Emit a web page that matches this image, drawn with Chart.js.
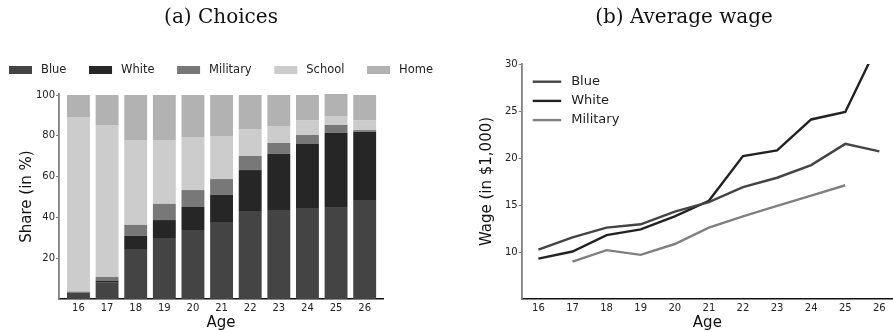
<!DOCTYPE html>
<html>
<head>
<meta charset="utf-8">
<script src="https://cdn.jsdelivr.net/npm/chart.js@4.4.1/dist/chart.umd.min.js"></script>
<style>
  html, body { margin: 0; padding: 0; background: #fff; }
  body { width: 893px; height: 332px; position: relative; overflow: hidden; }
  canvas { position: absolute; top: 0; }
  #choicesChart { left: 0; }
  #wageChart { left: 475px; }
</style>
</head>
<body>
<canvas id="choicesChart" width="442" height="332"></canvas>
<canvas id="wageChart" width="418" height="332"></canvas>
<script>
const ages = [16, 17, 18, 19, 20, 21, 22, 23, 24, 25, 26];

// (a) shares in %
const blueShare     = [3.0, 8.0, 24.5, 29.9, 33.8, 37.7, 43.1, 43.6, 44.6, 45.1, 48.5];
const whiteShare    = [0.0, 1.0, 6.4, 8.8, 11.3, 13.3, 20.1, 27.5, 31.4, 36.3, 33.4];
const militaryShare = [0.6, 1.8, 5.4, 7.9, 8.3, 7.8, 6.9, 5.4, 4.4, 3.9, 0.9];
const schoolShare   = [85.6, 74.5, 41.6, 31.3, 26.0, 21.1, 13.2, 8.3, 7.3, 4.4, 4.9];
const homeShare     = [10.8, 14.7, 22.1, 22.1, 20.6, 20.1, 16.7, 15.2, 12.3, 10.8, 12.3];
const shareTicks = [20, 40, 60, 80, 100];

// (b) wages in $1,000
const blueWage     = [10.25, 11.55, 12.6, 12.95, 14.3, 15.3, 16.9, 17.9, 19.25, 21.5, 20.7];
const whiteWage    = [9.3, 10.05, 11.8, 12.4, 13.8, 15.45, 20.2, 20.8, 24.1, 24.9, 32.4];
const militaryWage = [null, 8.97, 10.2, 9.7, 10.85, 12.6, 13.8, 14.9, 16.0, 17.1, null];
const wageTicks = [10, 15, 20, 25, 30];

Chart.defaults.font.family = "'DejaVu Sans', sans-serif";
Chart.defaults.color = "#222";
Chart.defaults.animation = false;

const points = vals => ages.map((a, i) => ({ x: a, y: vals[i] })).filter(p => p.y !== null);

// legend above the bars: patch + label in one row
const rowLegend = {
  id: "rowLegend",
  afterDraw(chart) {
    const { ctx, chartArea } = chart;
    ctx.save();
    ctx.font = "11.5px 'DejaVu Sans'";
    ctx.textBaseline = "middle";
    const sets = chart.data.datasets;
    const widths = sets.map(d => ctx.measureText(d.label).width);
    const total = widths.reduce((s, w) => s + 32 + w, 0) + 22.6 * (sets.length - 1);
    let x = (chartArea.left + chartArea.right) / 2 - total / 2;
    sets.forEach((d, i) => {
      ctx.fillStyle = d.backgroundColor;
      ctx.fillRect(x, 66, 23, 8);
      ctx.fillStyle = "#222";
      ctx.fillText(d.label, x + 32, 70);
      x += 32 + widths[i] + 22.6;
    });
    ctx.restore();
  }
};

// legend inside the line plot, top left
const lineLegend = {
  id: "lineLegend",
  afterDraw(chart) {
    const { ctx, chartArea } = chart;
    ctx.save();
    ctx.font = "13px 'DejaVu Sans'";
    ctx.textBaseline = "middle";
    chart.data.datasets.forEach((d, i) => {
      const y = chartArea.top + 17.7 + i * 19.2;
      ctx.strokeStyle = d.borderColor;
      ctx.lineWidth = 2.4;
      ctx.beginPath();
      ctx.moveTo(chartArea.left + 11, y);
      ctx.lineTo(chartArea.left + 39.5, y);
      ctx.stroke();
      ctx.fillStyle = "#222";
      ctx.fillText(d.label, chartArea.left + 49.5, y);
    });
    ctx.restore();
  }
};

const titleFont = { family: "'DejaVu Serif', serif", size: 20, weight: "normal" };
const axisTitle = { size: 15 };
const tickFont = { size: 10 };

new Chart(document.getElementById("choicesChart"), {
  type: "bar",
  data: {
    datasets: [
      { label: "Blue",     data: points(blueShare),     backgroundColor: "#444444" },
      { label: "White",    data: points(whiteShare),    backgroundColor: "#262626" },
      { label: "Military", data: points(militaryShare), backgroundColor: "#787878" },
      { label: "School",   data: points(schoolShare),   backgroundColor: "#cccccc" },
      { label: "Home",     data: points(homeShare),     backgroundColor: "#b2b2b2" }
    ]
  },
  options: {
    responsive: false,
    devicePixelRatio: 1,
    layout: { padding: 0 },
    datasets: { bar: { barPercentage: 0.8, categoryPercentage: 1.0, borderWidth: 0 } },
    plugins: {
      legend: { display: false },
      tooltip: { enabled: false },
      title: { display: true, text: "(a) Choices", font: titleFont, color: "#111", padding: { top: 6, bottom: 64 } }
    },
    scales: {
      x: {
        type: "linear", stacked: true, offset: false, min: 15.32, max: 26.64,
        afterBuildTicks: s => { s.ticks = ages.map(v => ({ value: v })); },
        afterFit: s => { s.height = 33; },
        grid: { display: false, drawTicks: false, offset: false },
        border: { display: true, color: "#111", width: 1.5 },
        ticks: { font: tickFont, padding: 3 },
        title: { display: true, text: "Age", font: axisTitle, color: "#111", padding: 0 }
      },
      y: {
        stacked: true, min: 0, max: 100.5,
        afterBuildTicks: s => { s.ticks = shareTicks.map(v => ({ value: v })); },
        afterFit: s => { s.width = 59; },
        grid: { drawOnChartArea: false, drawTicks: true, tickLength: 3, color: "#808080" },
        border: { display: true, color: "#808080", width: 1.8 },
        ticks: { font: tickFont, padding: 1 },
        title: { display: true, text: "Share (in %)", font: axisTitle, color: "#111", padding: { top: 17.7, bottom: 0 } }
      },
      spacer: {
        type: "linear", position: "right", display: true,
        afterFit: s => { s.width = 59; },
        grid: { display: false }, border: { display: false }, ticks: { display: false }
      }
    }
  },
  plugins: [rowLegend]
});

new Chart(document.getElementById("wageChart"), {
  type: "line",
  data: {
    datasets: [
      { label: "Blue",     data: points(blueWage),     borderColor: "#444444" },
      { label: "White",    data: points(whiteWage),    borderColor: "#222222" },
      { label: "Military", data: points(militaryWage), borderColor: "#808080" }
    ]
  },
  options: {
    responsive: false,
    devicePixelRatio: 1,
    layout: { padding: 0 },
    datasets: { line: { borderWidth: 2.4, pointRadius: 0, tension: 0, fill: false } },
    plugins: {
      legend: { display: false },
      tooltip: { enabled: false },
      title: { display: true, text: "(b) Average wage", font: titleFont, color: "#111", padding: { top: 6, bottom: 34 } }
    },
    scales: {
      x: {
        type: "linear", min: 15.51, max: 26.4,
        afterBuildTicks: s => { s.ticks = ages.map(v => ({ value: v })); },
        afterFit: s => { s.height = 33; },
        grid: { display: false, drawTicks: false },
        border: { display: true, color: "#111", width: 1.5 },
        ticks: { font: tickFont, padding: 3 },
        title: { display: true, text: "Age", font: axisTitle, color: "#111", padding: 0 }
      },
      y: {
        min: 5, max: 30,
        afterBuildTicks: s => { s.ticks = wageTicks.map(v => ({ value: v })); },
        afterFit: s => { s.width = 46.7; },
        grid: { drawOnChartArea: false, drawTicks: true, tickLength: 3, color: "#808080" },
        border: { display: true, color: "#808080", width: 1.8 },
        ticks: { font: tickFont, padding: 1 },
        title: { display: true, text: "Wage (in $1,000)", font: axisTitle, color: "#111", padding: { top: 2.7, bottom: 0 } }
      }
    }
  },
  plugins: [lineLegend]
});
</script>
</body>
</html>
